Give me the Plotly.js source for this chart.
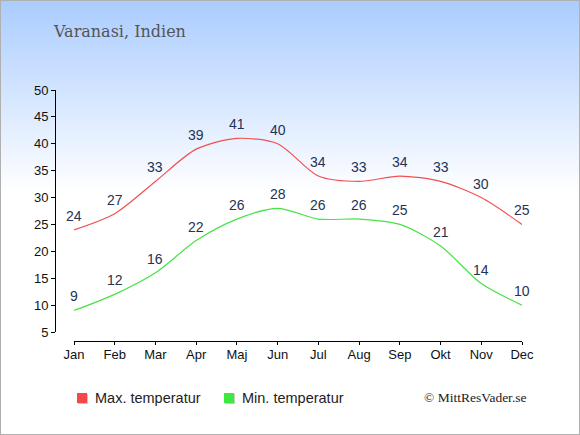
<!DOCTYPE html>
<html>
<head>
<meta charset="utf-8">
<script src="https://cdn.plot.ly/plotly-3.0.1.min.js"></script>
<style>
  html, body { margin: 0; padding: 0; }
  #wrap { position: relative; width: 580px; height: 435px;
          background: linear-gradient(to bottom, #aaccff 0%, #ffffff 44%, #ffffff 100%); }
  #chart { position: absolute; left: 0; top: 0; width: 580px; height: 435px; }
  #border { position: absolute; left: 0; top: 0; width: 578px; height: 433px;
            border: 1px solid #b0b0b0; pointer-events: none; }
</style>
</head>
<body>
<div id="wrap"><div id="chart"></div><div id="border"></div></div>
<script>
const months = ["Jan","Feb","Mar","Apr","Maj","Jun","Jul","Aug","Sep","Okt","Nov","Dec"];
const maxTemp = [24, 27, 33, 39, 41, 40, 34, 33, 34, 33, 30, 25];
const minTemp = [9, 12, 16, 22, 26, 28, 26, 26, 25, 21, 14, 10];
const yTicks = [5, 10, 15, 20, 25, 30, 35, 40, 45, 50];
const titleText = "Varanasi, Indien";
const maxName = "Max. temperatur";
const minName = "Min. temperatur";
const credit = "© MittResVader.se";

const maxColor = "#f25050";
const minColor = "#44e444";
const labelColor = "#1f3355";

// plot area in pixels
const L = 55, R = 58, T = 90, B = 94, W = 580, H = 435;
const PW = W - L - R, PH = H - T - B;
const px = v => (v - L) / PW;
const py = v => (H - B - v) / PH;

const traces = [
  { x: months, y: maxTemp, type: "scatter", mode: "lines", name: maxName,
    line: { color: maxColor, width: 1.2, shape: "spline", smoothing: 0.8 }, hoverinfo: "skip" },
  { x: months, y: minTemp, type: "scatter", mode: "lines", name: minName,
    line: { color: minColor, width: 1.2, shape: "spline", smoothing: 0.8 }, hoverinfo: "skip" }
];

const annotations = [];
function addLabels(vals) {
  vals.forEach((v, i) => {
    annotations.push({ x: months[i], y: v, xref: "x", yref: "y", text: String(v),
      showarrow: false, yshift: 14, font: { family: "Liberation Sans, Arial, sans-serif", size: 14, color: labelColor } });
  });
}
addLabels(maxTemp);
addLabels(minTemp);

annotations.push({ xref: "paper", yref: "paper", x: px(51), y: py(32), xanchor: "left", yanchor: "middle",
  text: titleText, showarrow: false, font: { family: "DejaVu Serif, serif", size: 16, color: "#555555" } });
annotations.push({ xref: "paper", yref: "paper", x: px(93), y: py(398), xanchor: "left", yanchor: "middle",
  text: maxName, showarrow: false, font: { family: "Liberation Sans, Arial, sans-serif", size: 14.5, color: "#222222" } });
annotations.push({ xref: "paper", yref: "paper", x: px(240), y: py(398), xanchor: "left", yanchor: "middle",
  text: minName, showarrow: false, font: { family: "Liberation Sans, Arial, sans-serif", size: 14.5, color: "#222222" } });
annotations.push({ xref: "paper", yref: "paper", x: px(529), y: py(397), xanchor: "right", yanchor: "middle",
  text: credit, showarrow: false, font: { family: "Liberation Serif, serif", size: 13.5, color: "#222222" } });

const shapes = [
  { type: "rect", xref: "paper", yref: "paper", x0: px(78), x1: px(88), y0: py(404), y1: py(394),
    fillcolor: "#c8c8c8", line: { width: 0 } },
  { type: "rect", xref: "paper", yref: "paper", x0: px(77), x1: px(87), y0: py(403), y1: py(393),
    fillcolor: "#f24848", line: { width: 0 } },
  { type: "rect", xref: "paper", yref: "paper", x0: px(225), x1: px(235), y0: py(404), y1: py(394),
    fillcolor: "#c8c8c8", line: { width: 0 } },
  { type: "rect", xref: "paper", yref: "paper", x0: px(224), x1: px(234), y0: py(403), y1: py(393),
    fillcolor: "#3ee83e", line: { width: 0 } }
];

const layout = {
  width: W, height: H,
  paper_bgcolor: "rgba(0,0,0,0)", plot_bgcolor: "rgba(0,0,0,0)",
  margin: { l: L, r: R, t: T, b: B, pad: 0 },
  showlegend: false,
  xaxis: {
    type: "category", domain: [19/PW, 1], range: [0, 11], anchor: "free", position: 0,
    showline: true, linecolor: "#000", linewidth: 1, ticks: "outside", ticklen: 3, tickcolor: "#000",
    ticklabelstandoff: -2,
    showgrid: false, zeroline: false, fixedrange: true,
    tickfont: { family: "Liberation Sans, Arial, sans-serif", size: 13, color: "#111" }
  },
  yaxis: {
    domain: [9/PH, 1], range: [5, 50], anchor: "free", position: 0,
    tickvals: yTicks, showline: true, linecolor: "#000", linewidth: 1, ticks: "outside", ticklen: 4, tickcolor: "#000",
    showgrid: false, zeroline: false, fixedrange: true,
    tickfont: { family: "Liberation Sans, Arial, sans-serif", size: 13, color: "#111" }
  },
  annotations: annotations,
  shapes: shapes
};

Plotly.newPlot("chart", traces, layout, { displayModeBar: false, staticPlot: true });
</script>
</body>
</html>
